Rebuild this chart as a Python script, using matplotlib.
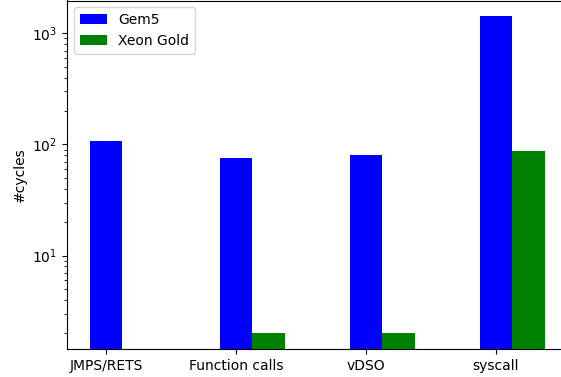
import numpy as np
import matplotlib
matplotlib.use("Agg")
import matplotlib.pyplot as plt

# data
categories = ["JMPS/RETS", "Function calls", "vDSO", "syscall"]
gem5 = [108, 75, 80, 1420]
xeon_gold = [0, 2, 2, 88]

x = np.arange(len(categories))
width = 0.25

fig = plt.figure(figsize=(5.61, 3.77), dpi=100)
# the right edge of the axes runs past the figure, as in the reference crop
ax = fig.add_axes([67 / 561, 28 / 377, 500.5 / 561, 348.5 / 377])

ax.bar(x, gem5, width, color="blue", label="Gem5")
ax.bar(x + width, xeon_gold, width, color="green", label="Xeon Gold")

ax.set_yscale("log")
ax.set_ylim(1.44, 1977)
ax.set_xlim(-0.3, 3.55)
ax.set_xticks(x)
ax.set_xticklabels(categories)
ax.set_ylabel("#cycles")
ax.legend(loc="upper left")

fig.savefig("out.png", dpi=100)
